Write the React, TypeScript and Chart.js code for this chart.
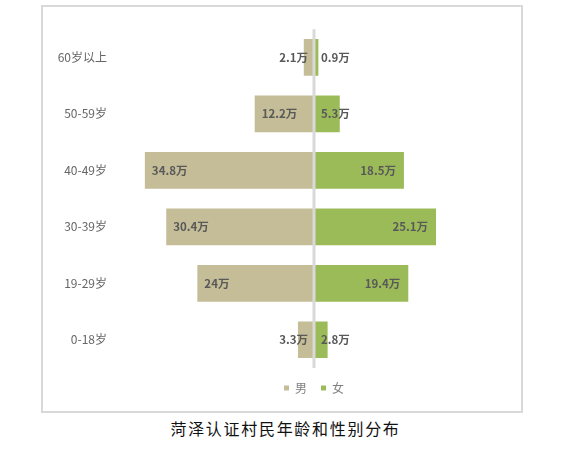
import React, { useEffect, useRef } from "react";
import { Chart, registerables } from "chart.js";

Chart.register(...registerables);

const categories = ["60岁以上", "50-59岁", "40-49岁", "30-39岁", "19-29岁", "0-18岁"];
const maleValues = [2.1, 12.2, 34.8, 30.4, 24, 3.3];
const femaleValues = [0.9, 5.3, 18.5, 25.1, 19.4, 2.8];
const seriesNames = ["男", "女"];
const unit = "万";
const titleText = "菏泽认证村民年龄和性别分布";

const MALE_COLOR = "#C4BD97";
const FEMALE_COLOR = "#9BBB59";
const LABEL_FONT = '"Noto Sans CJK SC", "Noto Sans", sans-serif';

const centerLinePlugin = {
  id: "centerLine",
  afterDatasetsDraw(chart: any) {
    const { ctx, chartArea, scales } = chart;
    const x = scales.x.getPixelForValue(0);
    ctx.save();
    ctx.strokeStyle = "#D9D9D9";
    ctx.lineWidth = 3;
    ctx.beginPath();
    ctx.moveTo(x, chartArea.top);
    ctx.lineTo(x, chartArea.bottom);
    ctx.stroke();
    ctx.restore();
  },
};

const barLabelPlugin = {
  id: "barLabels",
  afterDatasetsDraw(chart: any) {
    const { ctx } = chart;
    ctx.save();
    ctx.font = `bold 11.5px ${LABEL_FONT}`;
    ctx.fillStyle = "#595959";
    ctx.textBaseline = "middle";
    const zero = chart.scales.x.getPixelForValue(0);
    chart.data.datasets.forEach((ds: any, di: number) => {
      const meta = chart.getDatasetMeta(di);
      const raw = di === 0 ? maleValues : femaleValues;
      meta.data.forEach((bar: any, i: number) => {
        const text = `${raw[i]}${unit}`;
        const w = ctx.measureText(text).width;
        const barW = Math.abs(bar.x - zero);
        const fits = w + 14 <= barW;
        if (di === 0) {
          if (fits) {
            ctx.textAlign = "left";
            ctx.fillText(text, bar.x + 7, bar.y);
          } else {
            ctx.textAlign = "right";
            ctx.fillText(text, zero - 6, bar.y);
          }
        } else {
          if (fits) {
            ctx.textAlign = "right";
            ctx.fillText(text, bar.x - 8, bar.y);
          } else {
            ctx.textAlign = "left";
            ctx.fillText(text, zero + 7, bar.y);
          }
        }
      });
    });
    ctx.restore();
  },
};

export default function App() {
  const canvasRef = useRef<HTMLCanvasElement | null>(null);

  useEffect(() => {
    if (!canvasRef.current) return;
    const chart = new Chart(canvasRef.current, {
      type: "bar",
      data: {
        labels: categories,
        datasets: [
          {
            label: seriesNames[0],
            data: maleValues.map((v) => -v),
            backgroundColor: MALE_COLOR,
            borderWidth: 0,
            categoryPercentage: 1,
            barPercentage: 0.65,
          },
          {
            label: seriesNames[1],
            data: femaleValues,
            backgroundColor: FEMALE_COLOR,
            borderWidth: 0,
            categoryPercentage: 1,
            barPercentage: 0.65,
          },
        ],
      },
      options: {
        indexAxis: "y",
        animation: false,
        responsive: false,
        maintainAspectRatio: false,
        layout: { padding: { top: 21, right: 15, bottom: 7, left: 0 } },
        scales: {
          x: {
            display: false,
            stacked: true,
            min: -39.5,
            max: 39.5,
          },
          y: {
            stacked: true,
            grid: { display: false, drawTicks: false },
            border: { display: false },
            ticks: {
              color: "#666666",
              padding: 15,
              font: { family: LABEL_FONT, size: 12 },
            },
            afterFit(scale: any) {
              scale.width = 79;
            },
          },
        },
        plugins: {
          legend: {
            position: "bottom",
            fullSize: false,
            labels: {
              boxWidth: 5,
              boxHeight: 5,
              padding: 14,
              color: "#7F7F7F",
              font: { family: LABEL_FONT, size: 12 },
            },
          },
          tooltip: { enabled: false },
        },
      },
      plugins: [centerLinePlugin, barLabelPlugin],
    });
    return () => chart.destroy();
  }, []);

  return (
    <div
      style={{
        position: "absolute",
        left: 0,
        top: 0,
        width: 561,
        height: 451,
        background: "#ffffff",
      }}
    >
      <div
        style={{
          position: "absolute",
          left: 41,
          top: 5,
          width: 482,
          height: 408,
          boxSizing: "border-box",
          border: "2px solid #D9D9D9",
        }}
      >
        <canvas ref={canvasRef} width={478} height={404} style={{ display: "block" }} />
      </div>
      <div
        style={{
          position: "absolute",
          left: 0,
          top: 418,
          width: 571,
          textAlign: "center",
          fontFamily: '"Noto Sans CJK SC", serif',
          fontSize: 16,
          letterSpacing: 1.7,
          color: "#111111",
          lineHeight: "20px",
          whiteSpace: "nowrap",
        }}
      >
        {titleText}
      </div>
    </div>
  );
}
